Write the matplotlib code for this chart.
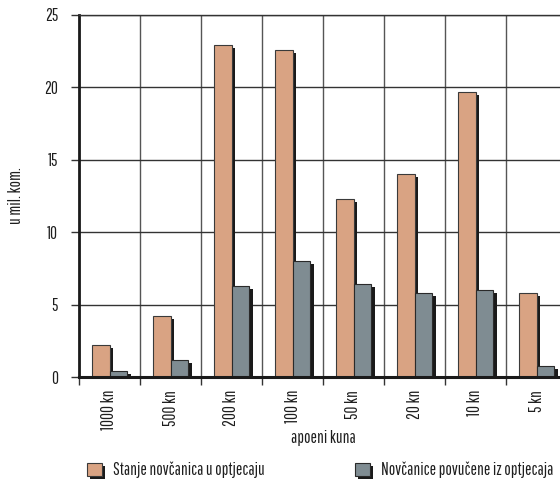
import matplotlib
matplotlib.use("Agg")
import matplotlib.pyplot as plt
import matplotlib.patheffects as pe
import numpy as np

categories = ["1000 kn", "500 kn", "200 kn", "100 kn", "50 kn", "20 kn", "10 kn", "5 kn"]
stanje = [2.2, 4.2, 22.9, 22.6, 12.3, 14.0, 19.7, 5.8]
povucene = [0.45, 1.2, 6.3, 8.0, 6.45, 5.8, 6.0, 0.75]
series_names = ["Stanje novčanica u optjecaju", "Novčanice povučene iz optjecaja"]
yticks = [0, 5, 10, 15, 20, 25]

plt.rcParams["font.family"] = ["Pathway Gothic One", "Roboto Condensed", "DejaVu Sans"]
FS = 12.3
TXT = "#1e1e1e"

fig = plt.figure(figsize=(5.6, 4.82), dpi=100)
ax = fig.add_axes([79/560, 104.7/482, 488/560, 362.5/482])

x = np.arange(len(categories))
w = 0.295
shadow = [pe.SimplePatchShadow(offset=(2.2, -2.2), shadow_rgbFace="#1a1a1a", alpha=1.0), pe.Normal()]
b1 = ax.bar(x - w/2, stanje, w, color="#D9A383", edgecolor="#3a3a3a", linewidth=0.8,
            label=series_names[0], zorder=3)
b2 = ax.bar(x + w/2, povucene, w, color="#7F8C92", edgecolor="#2a2a2a", linewidth=0.8,
            label=series_names[1], zorder=3)
for b in list(b1) + list(b2):
    b.set_path_effects(shadow)

ax.set_xlim(-0.5, len(categories) - 0.5)
ax.set_ylim(0, 25)
ax.set_yticks(yticks)
ax.set_yticklabels([str(v) for v in yticks], fontsize=FS, color=TXT)
ax.set_xticks(x)
ax.set_xticklabels(categories, rotation=90, fontsize=FS, color=TXT)
ax.set_xticks(np.arange(-0.5, len(categories)), minor=True)
ax.tick_params(axis="x", which="major", length=0, pad=9)
ax.tick_params(axis="x", which="minor", length=6, width=1.0, color="#333333", direction="out")
ax.tick_params(axis="y", which="major", length=6, width=1.0, color="#333333", direction="out", pad=9)

ax.grid(axis="y", which="major", color="#333333", linewidth=1.0, zorder=0)
ax.grid(axis="x", which="minor", color="#555555", linewidth=1.0, zorder=0)
ax.set_axisbelow(True)

ax.spines["right"].set_visible(False)
ax.spines["top"].set_linewidth(1.0)
ax.spines["top"].set_color("#333333")
ax.spines["left"].set_linewidth(2.0)
ax.spines["left"].set_color("#1a1a1a")
ax.spines["bottom"].set_linewidth(2.2)
ax.spines["bottom"].set_color("#1a1a1a")
ax.spines["bottom"].set_zorder(4)

ax.set_ylabel("u mil. kom.", fontsize=FS, color=TXT, va="center")
ax.yaxis.set_label_coords(-0.13, 0.5)
ax.set_xlabel("apoeni kuna", fontsize=FS, color=TXT, va="center")
ax.xaxis.set_label_coords(0.5, -0.167)

common = dict(frameon=False, fontsize=FS, borderpad=0, borderaxespad=0,
              handlelength=0.9, handleheight=0.85, handletextpad=0.65, loc="center left",
              labelcolor=TXT)
leg1 = fig.legend(handles=[b1], labels=[series_names[0]],
                  bbox_to_anchor=(87/560, 1 - 470/482), **common)
leg2 = fig.legend(handles=[b2], labels=[series_names[1]],
                  bbox_to_anchor=(355/560, 1 - 470/482), **common)
for leg in (leg1, leg2):
    for h in leg.legend_handles:
        h.set_path_effects(shadow)

fig.savefig("out.png", dpi=100)
